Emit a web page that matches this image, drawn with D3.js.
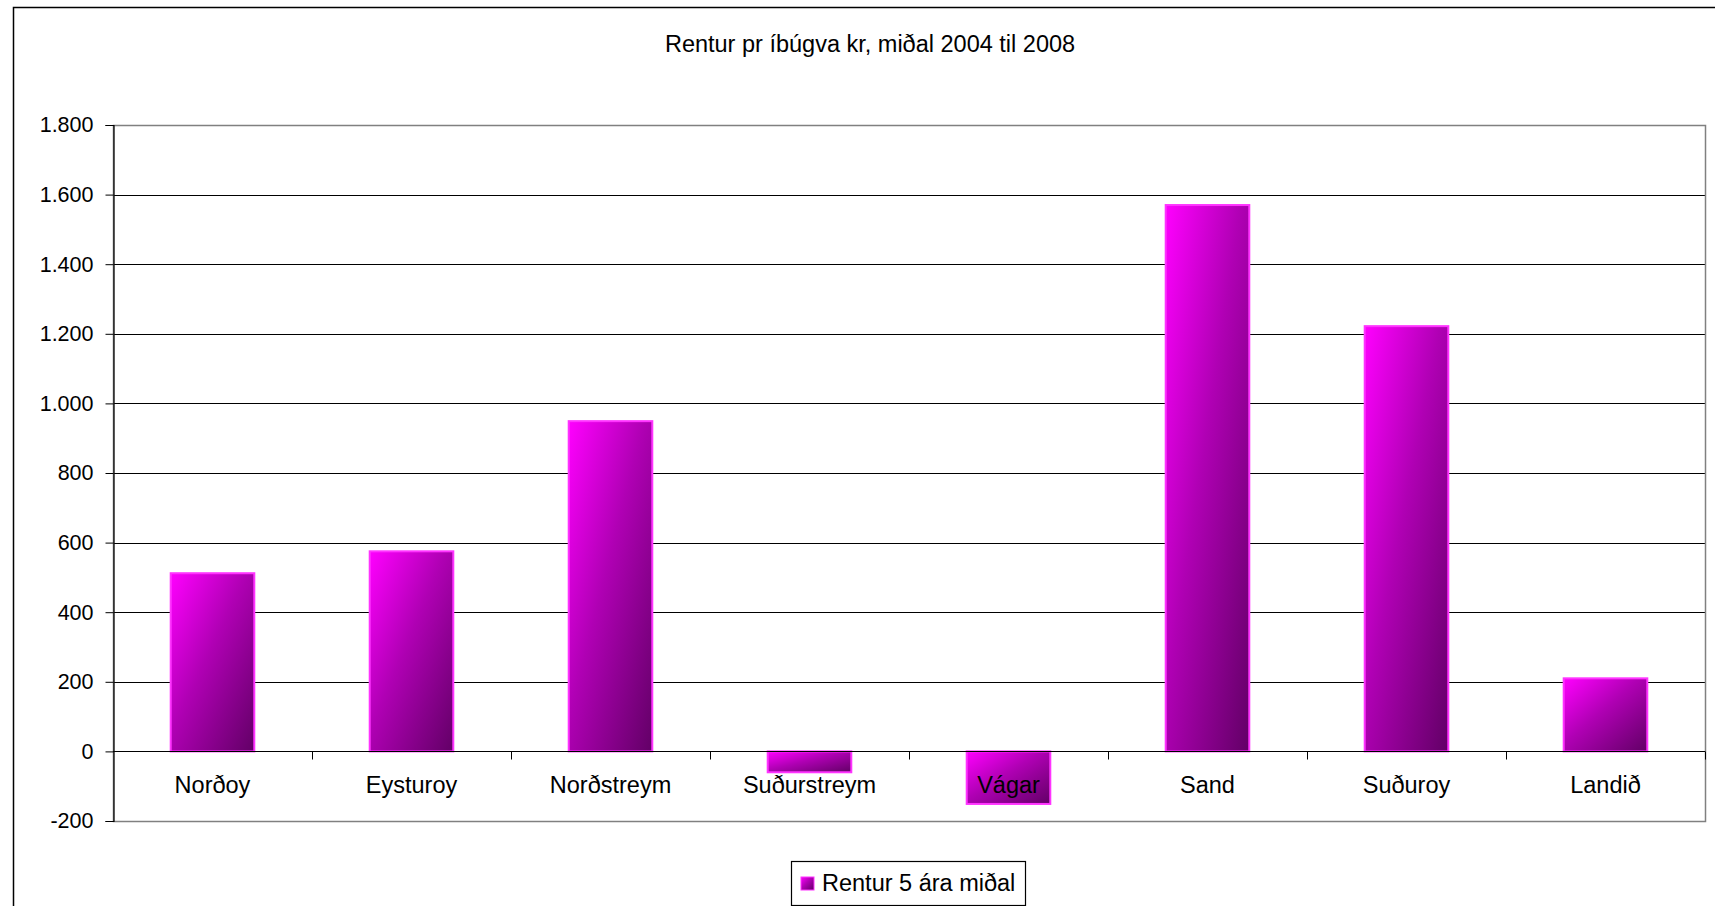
<!DOCTYPE html>
<meta charset="utf-8">
<script src="https://d3js.org/d3.v7.min.js"></script>
<style>
  body { margin: 0; background: #fff; font-family: 'Liberation Sans', Arial, sans-serif; }
</style>
<div id="chart"></div>
<script>
// data
var categories = ["Norðoy", "Eysturoy", "Norðstreym", "Suðurstreym", "Vágar", "Sand", "Suðuroy", "Landið"];
var values = [512, 575, 949, -60, -151, 1570, 1222, 210];
var yTicks = [-200, 0, 200, 400, 600, 800, 1000, 1200, 1400, 1600, 1800];
var title = "Rentur pr íbúgva kr, miðal 2004 til 2008";
var seriesName = "Rentur 5 ára miðal";

var W = 1715, H = 906;
var plot = {left: 113, right: 1705, top: 125, bottom: 821};

var svg = d3.select("#chart").append("svg")
  .attr("width", W).attr("height", H)
  .style("font-family", "'Liberation Sans', Arial, sans-serif");

// gradient like the spreadsheet fill
var defs = svg.append("defs");
var grad = defs.append("linearGradient").attr("id", "barGrad")
  .attr("x1", 0).attr("y1", 0).attr("x2", 1).attr("y2", 1);
grad.append("stop").attr("offset", "0%").attr("stop-color", "#ff00ff");
grad.append("stop").attr("offset", "45%").attr("stop-color", "#b000b4");
grad.append("stop").attr("offset", "100%").attr("stop-color", "#620066");

// outer chart border
svg.append("rect")
  .attr("x", 13.5).attr("y", 7.5)
  .attr("width", 1730).attr("height", 930)
  .attr("fill", "none").attr("stroke", "#000").attr("stroke-width", 1.5);

// title
svg.append("text")
  .attr("x", 870).attr("y", 52)
  .attr("text-anchor", "middle")
  .style("font-size", "23.5px")
  .text(title);

var x = d3.scaleBand().domain(categories)
  .range([plot.left, plot.right]).paddingInner(0.58).paddingOuter(0.29);
var band = d3.scaleBand().domain(categories).range([plot.left, plot.right]);
var y = d3.scaleLinear().domain([-200, 1800]).range([plot.bottom, plot.top]);

// grid lines
svg.append("g").selectAll("line")
  .data(yTicks.filter(function(d) { return d > -200 && d < 1800; }))
  .enter().append("line")
    .attr("x1", plot.left).attr("x2", plot.right)
    .attr("y1", function(d) { return Math.round(y(d)) + 0.5; })
    .attr("y2", function(d) { return Math.round(y(d)) + 0.5; })
    .attr("stroke", "#000").attr("stroke-width", 1.2);

// plot area border (grey)
svg.append("rect")
  .attr("x", plot.left + 0.5).attr("y", Math.round(y(1800)) + 0.5)
  .attr("width", plot.right - plot.left)
  .attr("height", Math.round(y(-200)) - Math.round(y(1800)))
  .attr("fill", "none").attr("stroke", "#808080").attr("stroke-width", 1.5);

// y axis
var yAxis = svg.append("g")
  .attr("transform", "translate(" + (plot.left + 0.5) + ",0)")
  .call(d3.axisLeft(y).tickValues(yTicks).tickSize(8).tickPadding(12)
    .tickFormat(function(d) {
      return d3.format(",")(d).replace(/,/g, ".").replace("\u2212", "-");
    }));
yAxis.select(".domain").attr("stroke", "#000").attr("stroke-width", 1.2);
yAxis.selectAll(".tick line").attr("stroke", "#000");
yAxis.selectAll("text")
  .style("font-family", "'Liberation Sans', Arial, sans-serif")
  .style("font-size", "21.5px").attr("fill", "#000");

// bars
svg.append("g").selectAll("rect")
  .data(values)
  .enter().append("rect")
    .attr("x", function(d, i) { return x(categories[i]); })
    .attr("width", x.bandwidth())
    .attr("y", function(d) { return y(Math.max(0, d)); })
    .attr("height", function(d) { return Math.abs(y(d) - y(0)); })
    .attr("fill", "url(#barGrad)")
    .attr("stroke", "#ff33ff").attr("stroke-width", 2);

// zero axis with category ticks
var zeroY = Math.round(y(0)) + 0.5;
svg.append("line")
  .attr("x1", plot.left).attr("x2", plot.right)
  .attr("y1", zeroY).attr("y2", zeroY)
  .attr("stroke", "#000").attr("stroke-width", 1.2);
var boundaries = categories.map(function(c) { return band(c); }).concat([plot.right]);
svg.append("g").selectAll("line")
  .data(boundaries.slice(1))
  .enter().append("line")
    .attr("x1", function(d) { return Math.round(d) + 0.5; })
    .attr("x2", function(d) { return Math.round(d) + 0.5; })
    .attr("y1", zeroY).attr("y2", zeroY + 8)
    .attr("stroke", "#000");

// category labels
svg.append("g").selectAll("text")
  .data(categories)
  .enter().append("text")
    .attr("x", function(d) { return band(d) + band.bandwidth() / 2; })
    .attr("y", 793)
    .attr("text-anchor", "middle")
    .style("font-size", "23.5px")
    .text(function(d) { return d; });

// legend
var lg = svg.append("g").attr("transform", "translate(791,861)");
lg.append("rect").attr("x", 0.5).attr("y", 0.5).attr("width", 234).attr("height", 44)
  .attr("fill", "#fff").attr("stroke", "#000").attr("stroke-width", 1.2);
lg.append("rect").attr("x", 10).attr("y", 16).attr("width", 13).attr("height", 13)
  .attr("fill", "url(#barGrad)").attr("stroke", "#ff33ff").attr("stroke-width", 1);
lg.append("text").attr("x", 31).attr("y", 30)
  .style("font-size", "23.5px").text(seriesName);
</script>
